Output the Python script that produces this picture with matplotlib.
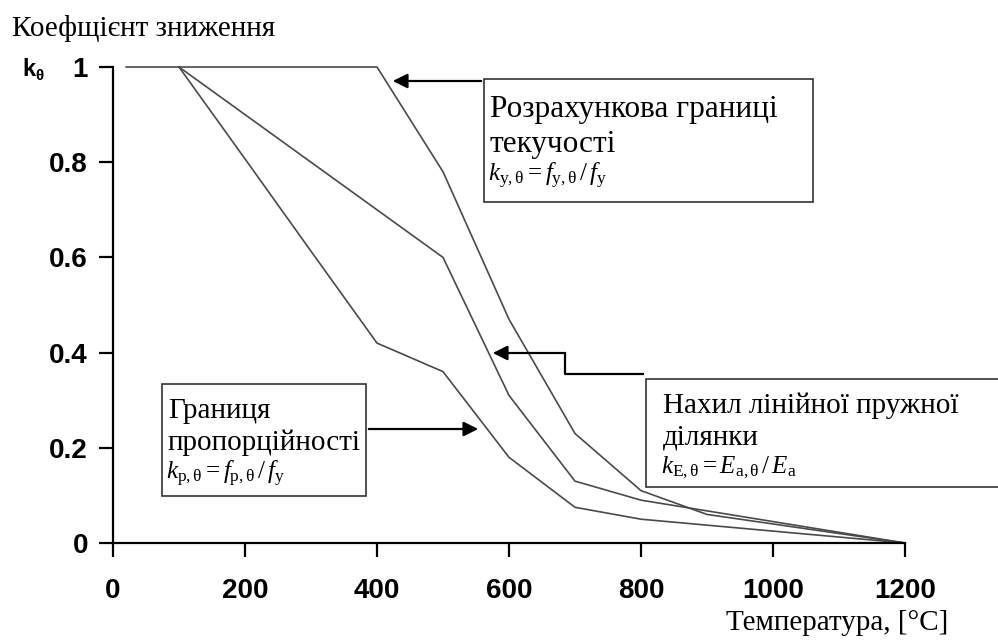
import matplotlib
matplotlib.use("Agg")
import matplotlib.pyplot as plt
from matplotlib.patches import Rectangle

# дані (коефіцієнти зниження для сталі)
temp_y = [20, 100, 200, 300, 400, 500, 600, 700, 800, 900, 1000, 1100, 1200]
k_y = [1.0, 1.0, 1.0, 1.0, 1.0, 0.78, 0.47, 0.23, 0.11, 0.06, 0.04, 0.02, 0.0]
temp_pe = [100, 200, 300, 400, 500, 600, 700, 800, 900, 1000, 1100, 1200]
k_p = [1.0, 0.807, 0.613, 0.42, 0.36, 0.18, 0.075, 0.05, 0.0375, 0.025, 0.0125, 0.0]
k_E = [1.0, 0.9, 0.8, 0.7, 0.6, 0.31, 0.13, 0.09, 0.0675, 0.045, 0.0225, 0.0]

x_ticks = [0, 200, 400, 600, 800, 1000, 1200]
y_ticks = [0, 0.2, 0.4, 0.6, 0.8, 1]
y_labels = ["0", "0.2", "0.4", "0.6", "0.8", "1"]

plt.rcParams['mathtext.fontset'] = 'custom'
plt.rcParams['mathtext.rm'] = 'Liberation Serif'
plt.rcParams['mathtext.it'] = 'Liberation Serif:italic'

W, H = 998, 642
fig = plt.figure(figsize=(W / 100, H / 100), dpi=100)
ax = fig.add_axes([113 / W, 1 - 543 / H, 792 / W, 476 / H])

line_col = '#4a4a4a'
ax.plot(temp_y, k_y, color=line_col, lw=1.2, clip_on=False)
ax.plot(temp_pe, k_p, color=line_col, lw=1.2, clip_on=False)
ax.plot(temp_pe, k_E, color=line_col, lw=1.2, clip_on=False)

ax.set_xlim(0, 1200)
ax.set_ylim(0, 1)
ax.set_xticks(x_ticks)
ax.set_xticklabels([str(t) for t in x_ticks])
ax.set_yticks(y_ticks)
ax.set_yticklabels(y_labels)
for s in ['top', 'right']:
    ax.spines[s].set_visible(False)
for s in ['left', 'bottom']:
    ax.spines[s].set_linewidth(1.6)
ax.tick_params(axis='both', direction='out', length=10, width=1.6, labelsize=20)
ax.tick_params(axis='x', pad=15)
ax.tick_params(axis='y', pad=8)
for lab in ax.get_xticklabels() + ax.get_yticklabels():
    lab.set_fontfamily('Liberation Sans')
    lab.set_fontweight('bold')

# шар для підписів у пікселях
ov = fig.add_axes([0, 0, 1, 1], zorder=5)
ov.set_xlim(0, W)
ov.set_ylim(H, 0)
ov.axis('off')
ov.patch.set_alpha(0)

serif = 'Liberation Serif'
ov.text(12, 36, "Коефщієнт зниження", family=serif, fontsize=21, va='baseline')
ov.text(22, 76, "k", family='Liberation Sans', weight='bold', fontsize=17, va='baseline')
ov.text(35, 80, "θ", family='Liberation Sans', weight='bold', fontsize=11, va='baseline')
ov.text(948, 630, "Температура, [°C]", family=serif, fontsize=21, ha='right', va='baseline')

# рамки з текстом: x, y, ширина, висота, відступ, розмір, інтервали рядків
boxes = [
    (484, 79, 329, 123, 6, 22.5, (38, 73, 102), ["Розрахункова границі", "текучості"],
     r"$k_{\mathrm{y,θ}} = f_{\mathrm{y,θ}}\,/\,f_{\mathrm{y}}$"),
    (162, 384, 204, 112, 6, 21, (34, 66, 95), ["Границя", "пропорційності"],
     r"$k_{\mathrm{p,θ}} = f_{\mathrm{p,θ}}\,/\,f_{\mathrm{y}}$"),
    (646, 379, 400, 108, 17, 21, (34, 66, 94), ["Нахил лінійної пружної", "ділянки"],
     r"$k_{\mathrm{E,θ}} = E_{\mathrm{a,θ}}\,/\,E_{\mathrm{a}}$"),
]
for bx, by, bw, bh, dx, fs, dy, lines, formula in boxes:
    ov.add_patch(Rectangle((bx, by), bw, bh, facecolor='white', edgecolor='#333333', lw=1.2))
    ov.text(bx + dx, by + dy[0], lines[0], family=serif, fontsize=fs, va='baseline')
    ov.text(bx + dx, by + dy[1], lines[1], family=serif, fontsize=fs, va='baseline')
    ov.text(bx + dx - 2, by + dy[2], formula, fontsize=18, va='baseline')

arrow = dict(arrowstyle='-|>', color='black', lw=1.6, mutation_scale=22)
ov.annotate("", xy=(390, 81), xytext=(484, 81), arrowprops=arrow)
ov.annotate("", xy=(481, 429), xytext=(366, 429), arrowprops=arrow)
ov.plot([643, 565, 565], [374, 374, 353], color='black', lw=1.6)
ov.annotate("", xy=(490, 353), xytext=(566, 353), arrowprops=arrow)

fig.savefig("out.png", dpi=100)
